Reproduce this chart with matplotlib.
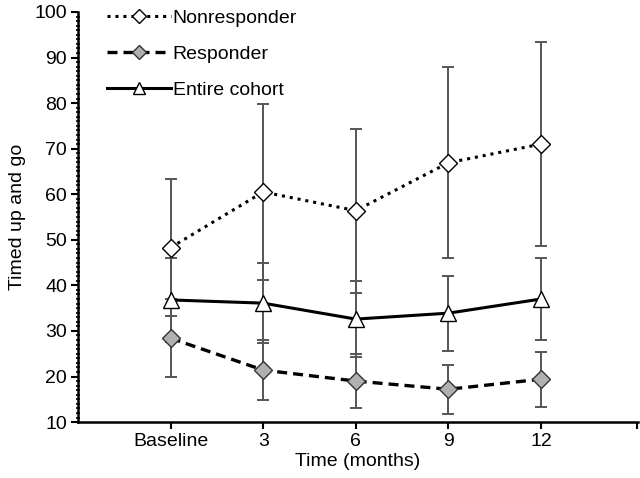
import numpy as np
import matplotlib
matplotlib.use("Agg")
from matplotlib import pyplot as plt
from matplotlib.ticker import MultipleLocator, FixedLocator

plt.rcParams['font.family'] = ['Liberation Sans', 'DejaVu Sans']

# data
categories = ["Baseline", "3", "6", "9", "12"]
non_mean = [48.3, 60.5, 56.4, 66.9, 71.0]
non_sd = [15.0, 19.4, 18.0, 21.0, 22.3]
resp_mean = [28.4, 21.4, 19.0, 17.2, 19.4]
resp_sd = [8.6, 6.6, 6.0, 5.4, 6.0]
all_mean = [36.8, 36.1, 32.6, 33.9, 37.0]
all_sd = [9.2, 8.7, 8.3, 8.2, 9.0]

x = np.arange(len(categories))

fig = plt.figure(figsize=(6.4, 4.78), dpi=100)
ax = fig.add_axes([0.122, 0.117, 0.875, 0.858])

err_kw = dict(fmt="none", ecolor="#555555", elinewidth=1.4, capsize=4, capthick=1.4, zorder=1)
ax.errorbar(x, non_mean, yerr=non_sd, **err_kw)
ax.errorbar(x, all_mean, yerr=all_sd, **err_kw)
ax.errorbar(x, resp_mean, yerr=resp_sd, **err_kw)

ax.plot(x, non_mean, linestyle=(0, (1, 1.6)), color="black", lw=2.2,
        marker="D", markersize=9, markerfacecolor="white", markeredgecolor="black",
        markeredgewidth=1.0, label="Nonresponder", zorder=3)
ax.plot(x, resp_mean, linestyle=(0, (3, 1.8)), color="black", lw=2.4,
        marker="D", markersize=9, markerfacecolor="#b0b0b0", markeredgecolor="#333333",
        markeredgewidth=1.0, label="Responder", zorder=3)
ax.plot(x, all_mean, linestyle="-", color="black", lw=2.2,
        marker="^", markersize=11, markerfacecolor="white", markeredgecolor="black",
        markeredgewidth=1.0, label="Entire cohort", zorder=3)

ax.set_xlim(-1, 5.05)
ax.set_ylim(10, 100)
ax.set_xticks(x)
ax.set_xticklabels(categories)
ax.xaxis.set_minor_locator(FixedLocator([5.04]))
ax.yaxis.set_major_locator(MultipleLocator(10))
ax.yaxis.set_minor_locator(MultipleLocator(1))

for s in ["top", "right"]:
    ax.spines[s].set_visible(False)
for s in ["left", "bottom"]:
    ax.spines[s].set_linewidth(1.8)

ax.tick_params(axis="both", which="major", labelsize=14, length=5, width=1.5, direction="out", pad=3)
ax.tick_params(axis="y", which="minor", length=3, width=1.2, direction="inout")
ax.tick_params(axis="x", which="minor", length=5, width=1.5, direction="out")

ax.set_ylabel("Timed up and go", fontsize=14, labelpad=6)
ax.set_xlabel("Time (months)", fontsize=14, labelpad=2)

ax.legend(loc="upper left", bbox_to_anchor=(0.03, 1.035), frameon=False, fontsize=14,
          handlelength=3.3, handletextpad=0.1, labelspacing=0.95, borderaxespad=0.2,
          markerscale=0.8)

fig.savefig("out.png", dpi=100)
